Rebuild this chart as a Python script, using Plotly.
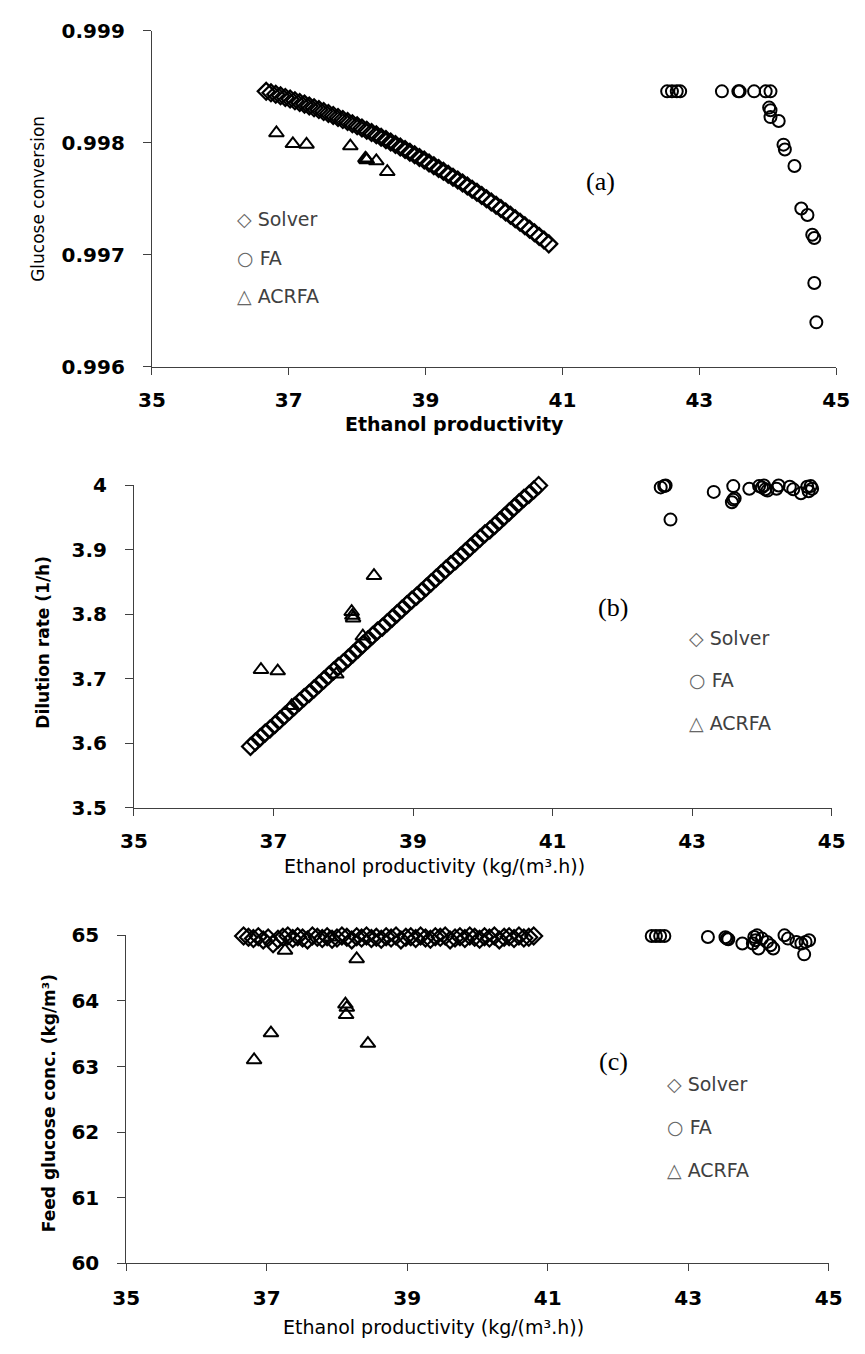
import plotly.graph_objects as go

# ---------------- data ----------------
solver_x = [36.67, 36.74, 36.81, 36.88, 36.95, 37.02, 37.09, 37.16, 37.23, 37.30,
            37.37, 37.44, 37.51, 37.58, 37.65, 37.72, 37.79, 37.86, 37.93, 38.00,
            38.07, 38.14, 38.21, 38.28, 38.35, 38.42, 38.49, 38.56, 38.63, 38.70,
            38.77, 38.84, 38.91, 38.98, 39.05, 39.12, 39.19, 39.26, 39.33, 39.40,
            39.47, 39.54, 39.61, 39.68, 39.75, 39.82, 39.89, 39.96, 40.03, 40.10,
            40.17, 40.24, 40.31, 40.38, 40.45, 40.52, 40.59, 40.66, 40.73, 40.80]
solver_conv = [0.998458, 0.998445, 0.998432, 0.998418, 0.998404, 0.998389, 0.998374, 0.998359, 0.998344, 0.998328,
               0.998312, 0.998295, 0.998278, 0.998261, 0.998243, 0.998225, 0.998207, 0.998188, 0.998169, 0.998150,
               0.998131, 0.998111, 0.998090, 0.998070, 0.998049, 0.998027, 0.998006, 0.997984, 0.997961, 0.997938,
               0.997915, 0.997892, 0.997868, 0.997844, 0.997819, 0.997794, 0.997769, 0.997744, 0.997718, 0.997692,
               0.997666, 0.997639, 0.997612, 0.997584, 0.997556, 0.997528, 0.997499, 0.997470, 0.997441, 0.997411,
               0.997381, 0.997351, 0.997320, 0.997289, 0.997258, 0.997227, 0.997195, 0.997162, 0.997130, 0.997096]
solver_dil = [3.595, 3.602, 3.609, 3.616, 3.622, 3.629, 3.636, 3.643, 3.650, 3.657,
              3.664, 3.671, 3.677, 3.684, 3.691, 3.698, 3.705, 3.712, 3.719, 3.725,
              3.732, 3.739, 3.746, 3.753, 3.760, 3.767, 3.774, 3.780, 3.787, 3.794,
              3.801, 3.808, 3.815, 3.822, 3.828, 3.835, 3.842, 3.849, 3.856, 3.863,
              3.870, 3.877, 3.883, 3.890, 3.897, 3.904, 3.911, 3.918, 3.925, 3.931,
              3.938, 3.945, 3.952, 3.959, 3.966, 3.973, 3.980, 3.986, 3.993, 4.000]
solver_feed = [64.99, 64.97, 64.95, 64.98, 64.93, 64.96, 64.87, 64.94, 64.97, 64.99,
               64.95, 64.98, 64.96, 64.93, 64.99, 64.97, 64.95, 64.98, 64.94, 64.96,
               64.99, 64.97, 64.93, 64.98, 64.96, 64.99, 64.95, 64.97, 64.94, 64.98,
               64.96, 64.99, 64.93, 64.97, 64.98, 64.95, 64.99, 64.96, 64.94, 64.98,
               64.97, 64.99, 64.93, 64.96, 64.98, 64.95, 64.99, 64.97, 64.94, 64.98,
               64.96, 64.99, 64.93, 64.97, 64.98, 64.95, 64.99, 64.96, 64.97, 64.99]

fa_x_a = [42.53, 42.60, 42.67, 42.72, 43.33, 43.57, 43.59, 43.80, 43.97, 44.04,
          44.02, 44.04, 44.04, 44.16, 44.23, 44.25, 44.39, 44.49, 44.58, 44.65,
          44.68, 44.68, 44.71]
fa_conv = [0.998458, 0.998458, 0.998458, 0.998458, 0.998458, 0.998458, 0.998458, 0.998458, 0.998458, 0.998458,
           0.998313, 0.998289, 0.998228, 0.998193, 0.997982, 0.997939, 0.997792, 0.997412, 0.997354, 0.997178,
           0.997149, 0.996746, 0.996395]

fa_x_b = [42.55, 42.60, 42.62, 42.69, 43.31, 43.59, 43.57, 43.59, 43.61, 43.82,
          43.96, 44.00, 44.03, 44.05, 44.08, 44.21, 44.24, 44.40, 44.45, 44.56,
          44.65, 44.67, 44.70, 44.72]
fa_dil = [3.997, 3.999, 4.000, 3.947, 3.990, 3.999, 3.974, 3.978, 3.980, 3.995,
          3.999, 3.997, 4.000, 3.994, 3.992, 3.995, 4.000, 3.998, 3.994, 3.988,
          3.998, 3.991, 3.999, 3.995]

fa_x_c = [42.48, 42.54, 42.60, 42.66, 43.28, 43.53, 43.55, 43.57, 43.77, 43.94,
          43.98, 43.96, 43.92, 44.00, 44.05, 44.12, 44.17, 44.21, 44.37, 44.42,
          44.54, 44.61, 44.67, 44.72, 44.65]
fa_feed = [64.99, 64.99, 64.99, 64.99, 64.975, 64.97, 64.95, 64.94, 64.875, 64.975,
           65.0, 64.925, 64.875, 64.80, 64.95, 64.90, 64.85, 64.80, 65.0, 64.95,
           64.90, 64.875, 64.90, 64.925, 64.71]

acrfa_x = [36.82, 37.06, 37.26, 37.90, 38.12, 38.14, 38.13, 38.28, 38.44]
acrfa_conv = [0.998086, 0.997989, 0.997984, 0.997969, 0.997860, 0.997846, 0.997852, 0.997837, 0.997740]
acrfa_dil = [3.714, 3.712, 3.658, 3.707, 3.804, 3.794, 3.798, 3.766, 3.860]
acrfa_feed = [63.10, 63.51, 64.77, 64.97, 63.95, 63.90, 63.79, 64.64, 63.35]

x_ticks = [35, 37, 39, 41, 43, 45]
x_ticktext = ["35", "37", "39", "41", "43", "45"]
ya_ticks = [0.996, 0.997, 0.998, 0.999]
ya_ticktext = ["0.996", "0.997", "0.998", "0.999"]
yb_ticks = [3.5, 3.6, 3.7, 3.8, 3.9, 4.0]
yb_ticktext = ["3.5", "3.6", "3.7", "3.8", "3.9", "4"]
yc_ticks = [60, 61, 62, 63, 64, 65]
yc_ticktext = ["60", "61", "62", "63", "64", "65"]

series_names = ["Solver", "FA", "ACRFA"]
series_glyphs = ["\u25C7", "\u25CB", "\u25B3"]

# ---------------- figure ----------------
W, H = 865, 1354
fig = go.Figure()

def px(v):
    return v / W

def py(v):
    return 1 - v / H

def add(x, y, sym, size, xa, ya, lw=1.8):
    fig.add_trace(go.Scatter(x=x, y=y, mode="markers", xaxis=xa, yaxis=ya,
                             cliponaxis=False, showlegend=False,
                             marker=dict(symbol=sym, size=size, color="black",
                                         line=dict(color="black", width=lw))))

for xa, ya, sy, fx, fy, ay in [
    ("x", "y", solver_conv, fa_x_a, fa_conv, acrfa_conv),
    ("x2", "y2", solver_dil, fa_x_b, fa_dil, acrfa_dil),
    ("x3", "y3", solver_feed, fa_x_c, fa_feed, acrfa_feed),
]:
    add(solver_x, sy, "diamond-open", 13, xa, ya, 2.2)
    add(fx, fy, "circle-open", 12, xa, ya, 2)
    add(acrfa_x, ay, "triangle-up-open", 13, xa, ya, 2)

line_col = "#404040"
tfont = dict(family="DejaVu Sans", size=20, color="black", weight="bold")

def xaxis(dom, anchor, standoff):
    return dict(domain=dom, anchor=anchor, range=[35, 45], tickvals=x_ticks,
                ticktext=x_ticktext, showline=True, linecolor=line_col, linewidth=1,
                ticks="outside", ticklen=7, tickcolor=line_col, showgrid=False,
                zeroline=False, tickfont=tfont, ticklabelstandoff=standoff)

def yaxis(dom, anchor, rng, tv, tt):
    return dict(domain=dom, anchor=anchor, range=rng, tickvals=tv, ticktext=tt,
                showline=True, linecolor=line_col, linewidth=1, ticks="outside",
                ticklen=8, tickcolor=line_col, showgrid=False, zeroline=False,
                tickfont=tfont, ticklabelstandoff=14)

fig.update_layout(
    width=W, height=H, margin=dict(l=0, r=0, t=0, b=0),
    paper_bgcolor="white", plot_bgcolor="white",
    xaxis=xaxis([px(142.5), px(849.7)], "y", 8),
    yaxis=yaxis([py(361), py(19)], "x", [0.996, 0.999], ya_ticks, ya_ticktext),
    xaxis2=xaxis([px(124), px(845)], "y2", 8),
    yaxis2=yaxis([py(810), py(482)], "x2", [3.5, 4.0], yb_ticks, yb_ticktext),
    xaxis3=xaxis([px(116), px(842)], "y3", 10),
    yaxis3=yaxis([py(1274), py(940)], "x3", [60, 65], yc_ticks, yc_ticktext),
)

def note(text, cx, cy, font, angle=0, xanchor="center"):
    return dict(text=text, x=px(cx), y=py(cy), xref="paper", yref="paper",
                xanchor=xanchor, yanchor="middle", textangle=angle,
                showarrow=False, font=font)

ann = []
# x-axis titles
ann.append(note("Ethanol productivity", 455, 419,
                dict(family="DejaVu Sans", size=19, color="black", weight="bold")))
for cx, cy in [(435, 869), (434, 1339)]:
    ann.append(note("Ethanol productivity (kg/(m³.h))", cx, cy,
                    dict(family="DejaVu Sans", size=19, color="black")))
# y-axis titles
ann.append(note("Glucose conversion", 24, 190,
                dict(family="DejaVu Sans", size=17, color="black"), -90))
ann.append(note("Dilution rate (1/h)", 30, 642,
                dict(family="DejaVu Sans", size=17, color="black", weight="bold"), -90))
ann.append(note("Feed glucose conc. (kg/m³)", 36, 1111,
                dict(family="DejaVu Sans", size=17, color="black", weight="bold"), -90))
# panel labels
for lab, cx, cy in [("(a)", 606, 173), ("(b)", 619, 606), ("(c)", 620, 1068)]:
    ann.append(note(lab, cx, cy, dict(family="Liberation Serif", size=26, color="black")))
# legend text
for lx, ys in [(228, [211, 250, 289]), (695, [637, 680, 724]), (673, [1091, 1135, 1179])]:
    for name, glyph, yy in zip(series_names, series_glyphs, ys):
        ann.append(note("<span style='color:#666666'>" + glyph + "</span> " + name, lx, yy,
                        dict(family="DejaVu Sans", size=19, color="#404040"), 0, "left"))
fig.update_layout(annotations=ann)

fig.write_html("out.html")
